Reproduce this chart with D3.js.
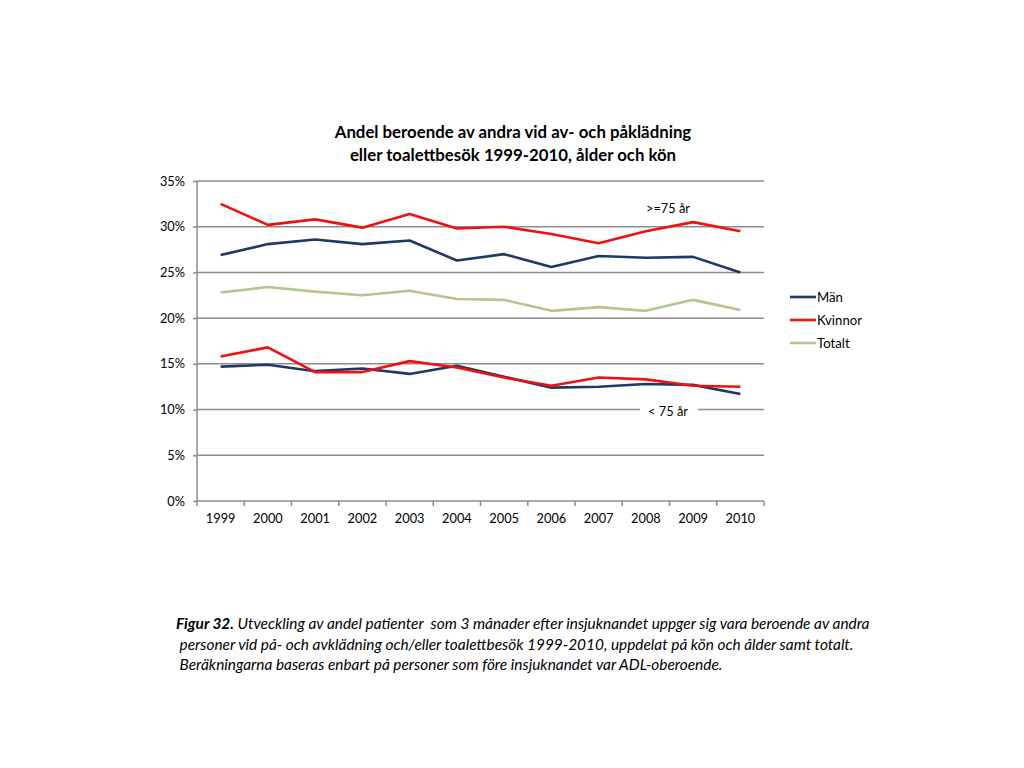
<!DOCTYPE html>
<html>
<head>
<meta charset="utf-8">
<script src="https://cdn.jsdelivr.net/npm/d3@7"></script>
<style>
body { margin: 0; background: #fff; }
svg { display: block; font-family: Lato, "Open Sans", sans-serif; }
</style>
</head>
<body>
<script>
"use strict";
const years = ["1999","2000","2001","2002","2003","2004","2005","2006","2007","2008","2009","2010"];
const yTicks = [0, 5, 10, 15, 20, 25, 30, 35];
// >=75 år
const manOld = [26.9, 28.1, 28.6, 28.1, 28.5, 26.3, 27.0, 25.6, 26.8, 26.6, 26.7, 25.0];
const kvinnorOld = [32.5, 30.2, 30.8, 29.9, 31.4, 29.8, 30.0, 29.2, 28.2, 29.5, 30.5, 29.5];
const totalt = [22.8, 23.4, 22.9, 22.5, 23.0, 22.1, 22.0, 20.8, 21.2, 20.8, 22.0, 20.9];
// < 75 år
const manYoung = [14.7, 14.9, 14.2, 14.5, 13.9, 14.8, 13.6, 12.4, 12.5, 12.8, 12.7, 11.7];
const kvinnorYoung = [15.8, 16.8, 14.1, 14.1, 15.3, 14.6, 13.5, 12.6, 13.5, 13.3, 12.6, 12.5];
const legend = [["Män", "#1f3864"], ["Kvinnor", "#f01010"], ["Totalt", "#b0c890"]];
const caption = [
	[["Figur 32.", true], [" Utveckling av andel patienter  som 3 månader efter insjuknandet uppger sig vara beroende av andra", false]],
	[[" personer vid på- och avklädning och/eller toalettbesök 1999-2010, uppdelat på kön och ålder samt totalt.", false]],
	[[" Beräkningarna baseras enbart på personer som före insjuknandet var ADL-oberoende.", false]]
];

function draw() {
	const w = 1024, h = 768;
	const pL = 197, pR = 764, pT = 181, pB = 501;
	const grid = "#8c8c8c";
	const svg = d3.select("body").append("svg").attr("width", w).attr("height", h);

	const x = d3.scaleBand().domain(years).range([pL, pR]);
	const y = d3.scaleLinear().domain([0, 35]).range([pB, pT]);

	svg.append("text").attr("x", 513).attr("y", 138).attr("text-anchor", "middle")
		.attr("font-size", 16.8).attr("font-weight", "bold").attr("fill", "#000")
		.text("Andel beroende av andra vid av- och påklädning");
	svg.append("text").attr("x", 513).attr("y", 161).attr("text-anchor", "middle")
		.attr("font-size", 16.8).attr("font-weight", "bold").attr("fill", "#000")
		.text("eller toalettbesök 1999-2010, ålder och kön");

	// gridlines
	svg.append("g").selectAll("line").data(yTicks.filter(d => d > 0)).enter().append("line")
		.attr("x1", pL).attr("x2", pR).attr("y1", d => y(d)).attr("y2", d => y(d))
		.attr("stroke", grid).attr("stroke-width", 1.5);

	const yAxis = svg.append("g").attr("transform", "translate(" + pL + ",0)")
		.call(d3.axisLeft(y).tickValues(yTicks).tickFormat(d => d + "%").tickSize(4).tickPadding(8));
	const xAxis = svg.append("g").attr("transform", "translate(0," + pB + ")")
		.call(d3.axisBottom(x).tickSize(0).tickPadding(13));
	xAxis.selectAll(".tick").append("line").attr("x1", -x.bandwidth() / 2).attr("x2", -x.bandwidth() / 2)
		.attr("y1", 0).attr("y2", 5);
	xAxis.append("line").attr("x1", pR).attr("x2", pR).attr("y1", 0).attr("y2", 5);
	[yAxis, xAxis].forEach(a => {
		a.selectAll("line").attr("stroke", grid).attr("stroke-width", 1.5);
		a.selectAll("text").attr("font-size", 12.8).attr("fill", "#000").attr("font-family", "Lato, sans-serif");
	});
	yAxis.select(".domain").attr("d", "M0," + pT + "V" + pB).attr("stroke", grid).attr("stroke-width", 1.5);
	xAxis.select(".domain").attr("d", "M" + pL + ",0H" + pR).attr("stroke", grid).attr("stroke-width", 1.5);

	// < 75 år label with white background over gridline
	svg.append("rect").attr("x", 640).attr("y", 402).attr("width", 58).attr("height", 18).attr("fill", "#fff");
	svg.append("text").attr("x", 668).attr("y", 416).attr("text-anchor", "middle").attr("font-size", 12.8).text("< 75 år");
	svg.append("text").attr("x", 668).attr("y", 213).attr("text-anchor", "middle").attr("font-size", 12.8).text(">=75 år");

	const line = d3.line().x((d, i) => x(years[i]) + x.bandwidth() / 2).y(d => y(d));
	const series = [[manYoung, legend[0][1]], [kvinnorYoung, legend[1][1]], [totalt, legend[2][1]], [manOld, legend[0][1]], [kvinnorOld, legend[1][1]]];
	svg.append("g").selectAll("path").data(series).enter().append("path")
		.attr("d", d => line(d[0])).attr("fill", "none").attr("stroke", d => d[1])
		.attr("stroke-width", 2.6).attr("stroke-linejoin", "round");

	const lg = svg.append("g").selectAll("g").data(legend).enter().append("g")
		.attr("transform", (d, i) => "translate(790," + (297 + i * 23) + ")");
	lg.append("line").attr("x1", 0).attr("x2", 26).attr("stroke", d => d[1]).attr("stroke-width", 2.6);
	lg.append("text").attr("x", 27).attr("y", 5).attr("font-size", 13.2).text(d => d[0]);

	const cap = svg.append("g").attr("font-style", "italic").attr("font-size", 15.4);
	caption.forEach((parts, i) => {
		const t = cap.append("text").attr("x", 176).attr("y", 629 + i * 20.5).attr("xml:space", "preserve");
		parts.forEach(p => t.append("tspan").attr("font-weight", p[1] ? "bold" : "normal").text(p[0]));
	});
}
draw();
</script>
</body>
</html>
